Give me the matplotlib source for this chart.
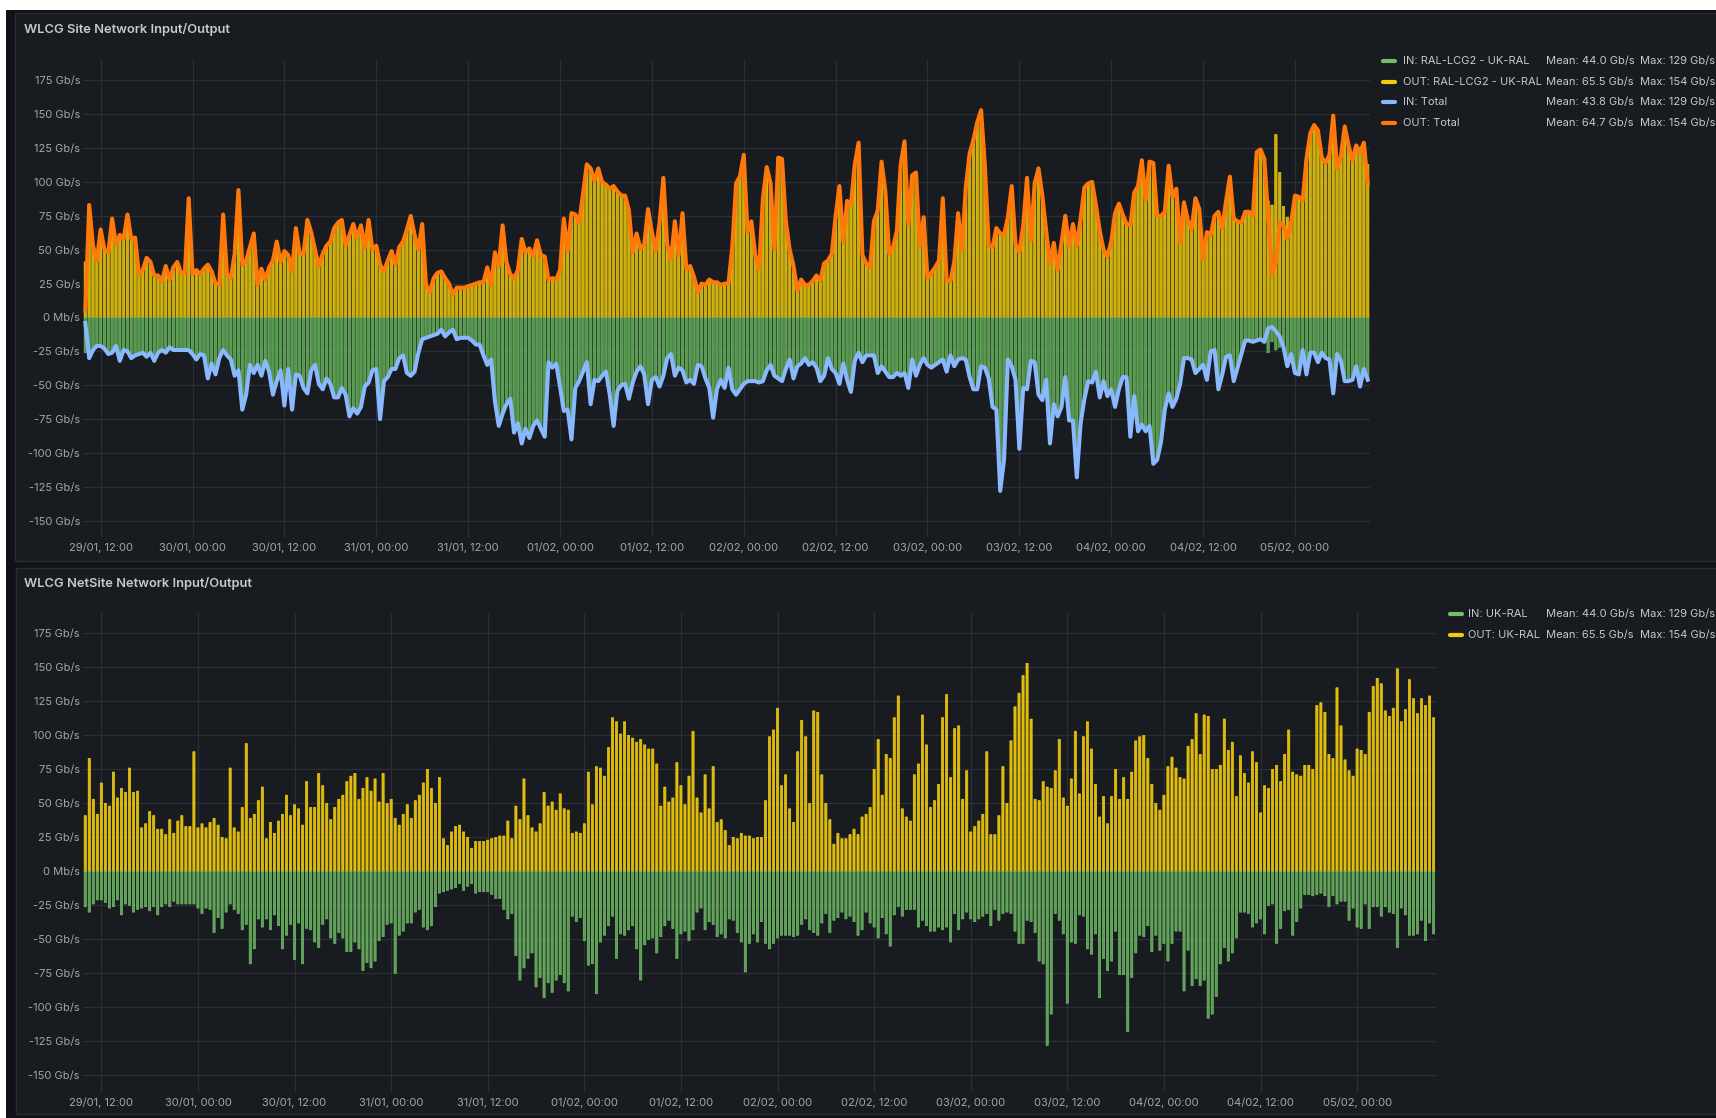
import numpy as np
import matplotlib.pyplot as plt
from matplotlib.patches import Rectangle
from matplotlib.lines import Line2D
from datetime import datetime, timedelta

plt.rcParams['font.family'] = ['Inter', 'DejaVu Sans']

# half-hourly samples, first one at 29/01 10:00
out_site = [
    41, 83, 53, 42, 65, 50, 48, 73, 54, 61, 58, 76, 58, 59, 32, 35, 44, 41, 31, 31,
    27, 38, 28, 37, 41, 33, 33, 88, 32, 35, 32, 36, 39, 34, 25, 24, 76, 32, 29, 47,
    94, 39, 42, 52, 62, 24, 36, 28, 37, 42, 56, 41, 49, 46, 34, 66, 47, 47, 72, 63,
    50, 38, 47, 53, 56, 66, 70, 72, 53, 61, 69, 59, 68, 51, 72, 50, 53, 39, 34, 42,
    49, 39, 52, 56,
    65, 75, 61, 50, 69, 24, 19, 29, 33, 34, 29, 25, 17, 22, 22, 22, 23, 24, 25, 26,
    26, 37, 24, 48, 38, 68, 41, 32, 29, 35, 58, 48, 51, 45, 57, 46, 45, 28, 29, 28,
    35, 73, 49, 77, 76, 70, 91, 113, 110, 101, 110, 100, 98, 95, 97, 93, 90, 90, 79, 48,
    62, 51, 54, 80, 63, 49, 70, 103, 54, 43, 71, 46, 77, 36, 38, 30, 19, 25, 24, 28,
    26, 26, 24,
    25, 25, 52, 99, 104, 120, 63, 71, 46, 36, 88, 111, 99, 50, 118, 117, 71, 50, 38, 20,
    28, 24, 24, 27, 31, 27, 40, 42, 47, 75, 97, 56, 86, 83, 113, 129, 46, 40, 37, 71,
    79, 115, 93, 47, 52, 64, 113, 130, 69, 105, 107, 53, 74, 29, 33, 37, 42, 88, 27, 27,
    41, 77, 50, 96, 121, 131, 144, 153, 112, 53, 52, 66, 62, 61, 74, 97, 54, 48, 68, 103,
    57, 99, 110, 90, 64,
    40, 55, 35, 55, 75, 53, 69, 53, 73, 96, 99, 100, 83, 64, 50, 45, 56, 77, 84, 76,
    69, 68, 92, 97, 116, 86, 115, 114, 75, 75, 78, 112, 89, 95, 55, 85, 72, 65, 88, 80,
    43, 63, 61, 75, 78, 66, 86, 104, 73, 71, 70, 78, 78, 75, 122, 124, 117, 86, 83, 135,
    107, 82, 74, 70, 90, 89, 86, 117, 136, 142, 138, 118, 114, 120, 149, 110, 119, 141, 127, 116,
    127, 122, 129, 113,
]
in_site = [
    26, 30, 24, 21, 21, 23, 27, 26, 21, 32, 24, 25, 30, 28, 27, 26, 29, 26, 32, 26,
    24, 26, 22, 24, 24, 24, 24, 24, 27, 31, 27, 28, 45, 34, 42, 30, 24, 28, 31, 43,
    39, 68, 57, 35, 41, 35, 43, 32, 40, 57, 47, 39, 65, 38, 68, 42, 43, 52, 56, 39,
    35, 49, 53, 45, 49, 59, 59, 52, 57, 73, 67, 71, 66, 51, 48, 39, 38, 75, 47, 44,
    38, 38, 30, 28,
    41, 43, 40, 26, 16, 15, 14, 13, 12, 9, 14, 11, 9, 16, 15, 15, 15, 17, 20, 20,
    28, 35, 31, 62, 80, 71, 64, 60, 85, 78, 93, 82, 89, 80, 76, 82, 88, 33, 37, 34,
    51, 69, 68, 90, 52, 47, 40, 33, 64, 46, 47, 43, 40, 57, 80, 54, 50, 49, 60, 48,
    40, 36, 42, 64, 46, 44, 51, 43, 30, 27, 43, 37, 39, 48, 46, 49, 35, 36, 45, 52,
    74, 53, 46,
    52, 37, 53, 57, 53, 49, 47, 47, 47, 48, 47, 39, 35, 43, 45, 47, 38, 31, 45, 36,
    34, 30, 35, 33, 37, 47, 43, 30, 38, 41, 49, 34, 46, 55, 32, 26, 33, 28, 28, 28,
    41, 36, 40, 44, 44, 41, 43, 41, 52, 31, 43, 35, 30, 35, 37, 35, 33, 31, 40, 28,
    36, 31, 30, 31, 44, 53, 53, 36, 37, 45, 66, 68, 128, 105, 31, 36, 46, 97, 52, 53,
    32, 33, 57, 61, 46,
    93, 64, 73, 66, 44, 76, 76, 118, 78, 60, 47, 48, 40, 59, 47, 58, 53, 66, 53, 44,
    44, 88, 58, 84, 79, 84, 80, 108, 105, 92, 68, 56, 66, 60, 49, 30, 30, 31, 41, 38,
    35, 46, 25, 24, 53, 42, 29, 28, 47, 37, 27, 17, 17, 18, 17, 16, 18, 26, 18, 24,
    22, 22, 36, 27, 41, 42, 24, 42, 26, 26, 33, 26, 30, 31, 56, 27, 32, 47, 47, 46,
    36, 51, 38, 46,
]
# totals follow the site series except where the panel shows otherwise
out_total_diff = {0: 5, 309: 75, 310: 32, 311: 40, 312: 70, 313: 68, 314: 58, 315: 70, 335: 99}
in_total_diff = {0: 4, 309: 8, 310: 7, 311: 10, 312: 14}

out_total = list(out_site)
for k, v in out_total_diff.items():
    out_total[k] = v
in_total = list(in_site)
for k, v in in_total_diff.items():
    in_total[k] = v

start = datetime(2024, 1, 29, 10, 0)
tick_hours = list(range(2, 160, 12))
tick_labels = [(start + timedelta(hours=h)).strftime('%d/%m, %H:%M') for h in tick_hours]
y_ticks = list(range(-150, 176, 25))
y_labels = ['0 Mb/s' if v == 0 else '{} Gb/s'.format(v) for v in y_ticks]

legend_top = [
    ('IN: RAL-LCG2 - UK-RAL', 'Mean: 44.0 Gb/s', 'Max: 129 Gb/s', '#73BF69'),
    ('OUT: RAL-LCG2 - UK-RAL', 'Mean: 65.5 Gb/s', 'Max: 154 Gb/s', '#F2CC0C'),
    ('IN: Total', 'Mean: 43.8 Gb/s', 'Max: 129 Gb/s', '#8AB8FF'),
    ('OUT: Total', 'Mean: 64.7 Gb/s', 'Max: 154 Gb/s', '#FF780A'),
]
legend_bottom = [
    ('IN: UK-RAL', 'Mean: 44.0 Gb/s', 'Max: 129 Gb/s', '#73BF69'),
    ('OUT: UK-RAL', 'Mean: 65.5 Gb/s', 'Max: 154 Gb/s', '#F2CC0C'),
]

W, H = 1716, 1118
BG = '#181b1f'
TXT = '#c7c8d0'
TICK = '#a4a6ae'
GRID = '#2c2f35'


def box(x0, y0, x1, y1):
    return [x0 / W, 1 - y1 / H, (x1 - x0) / W, (y1 - y0) / H]


fig = plt.figure(figsize=(W / 100, H / 100), dpi=100)
fig.patch.set_facecolor('white')
fig.add_artist(Rectangle((6 / W, 0), 1, 1 - 10 / H, transform=fig.transFigure,
                         facecolor='#111217', edgecolor='none', zorder=0))
for (x0, y0, x1, y1) in [(15, 13, 1720, 561), (16, 568, 1720, 1114)]:
    fig.add_artist(Rectangle((x0 / W, 1 - y1 / H), (x1 - x0) / W, (y1 - y0) / H,
                             transform=fig.transFigure, facecolor=BG,
                             edgecolor='#2a2d32', linewidth=1, zorder=0))

x = np.arange(len(out_site)) * 0.5
xi = np.array(in_site, dtype=float)
xo = np.array(out_site, dtype=float)


def style_axes(ax):
    ax.set_facecolor('none')
    for s in ax.spines.values():
        s.set_visible(False)
    ax.set_xlim(-0.28, 167.8)
    ax.set_ylim(-162, 190)
    ax.set_yticks(y_ticks)
    ax.set_yticklabels(y_labels)
    ax.set_xticks(tick_hours)
    ax.set_xticklabels(tick_labels)
    ax.tick_params(length=0, colors=TICK, labelsize=8)
    ax.tick_params(axis='y', pad=2.3)
    ax.tick_params(axis='x', pad=4)
    ax.grid(True, color=GRID, linewidth=0.9)
    ax.set_axisbelow(True)


# top panel
ax1 = fig.add_axes(box(83.2, 60, 1370, 537))
style_axes(ax1)
ax1.bar(x, xo, width=0.33, color='#cdae10', edgecolor='#F2CC0C', linewidth=0.4, snap=False)
ax1.bar(x, -xi, width=0.33, color='#579a4f', edgecolor='#73BF69', linewidth=0.4, snap=False)
ax1.plot(x, -np.array(in_total), color='#8AB8FF', linewidth=2.9, solid_joinstyle='round')
ax1.plot(x, out_total, color='#FF780A', linewidth=2.9, solid_joinstyle='round')

# bottom panel
ax2 = fig.add_axes(box(83, 613, 1436, 1091.6))
style_axes(ax2)
ax2.bar(x, xo, width=0.27, color='#dcb90e', edgecolor='#F2CC0C', linewidth=0.5, snap=False)
ax2.bar(x, -xi, width=0.27, color='#5d9c55', edgecolor='#73BF69', linewidth=0.5, snap=False)

fig.text(24 / W, 1 - 29.5 / H, 'WLCG Site Network Input/Output', color=TXT,
         fontsize=9.3, fontweight='semibold', va='center', ha='left')
fig.text(24 / W, 1 - 583 / H, 'WLCG NetSite Network Input/Output', color=TXT,
         fontsize=9.3, fontweight='semibold', va='center', ha='left')


def draw_legend(rows, x_mark, x_name, y0):
    for r, (name, mean, mx, col) in enumerate(rows):
        yy = 1 - (y0 + r * 20.5) / H
        fig.add_artist(Line2D([x_mark / W, (x_mark + 12) / W], [yy, yy], color=col,
                              linewidth=3, solid_capstyle='round', transform=fig.transFigure))
        fig.text(x_name / W, yy, name, color=TXT, fontsize=8, va='center', ha='left')
        fig.text(1546 / W, yy, mean, color=TXT, fontsize=8, va='center', ha='left')
        fig.text(1640 / W, yy, mx, color=TXT, fontsize=8, va='center', ha='left')


draw_legend(legend_top, 1383, 1403, 61.3)
draw_legend(legend_bottom, 1450, 1468, 614.3)

fig.savefig('out.png', dpi=100, facecolor=fig.get_facecolor())
